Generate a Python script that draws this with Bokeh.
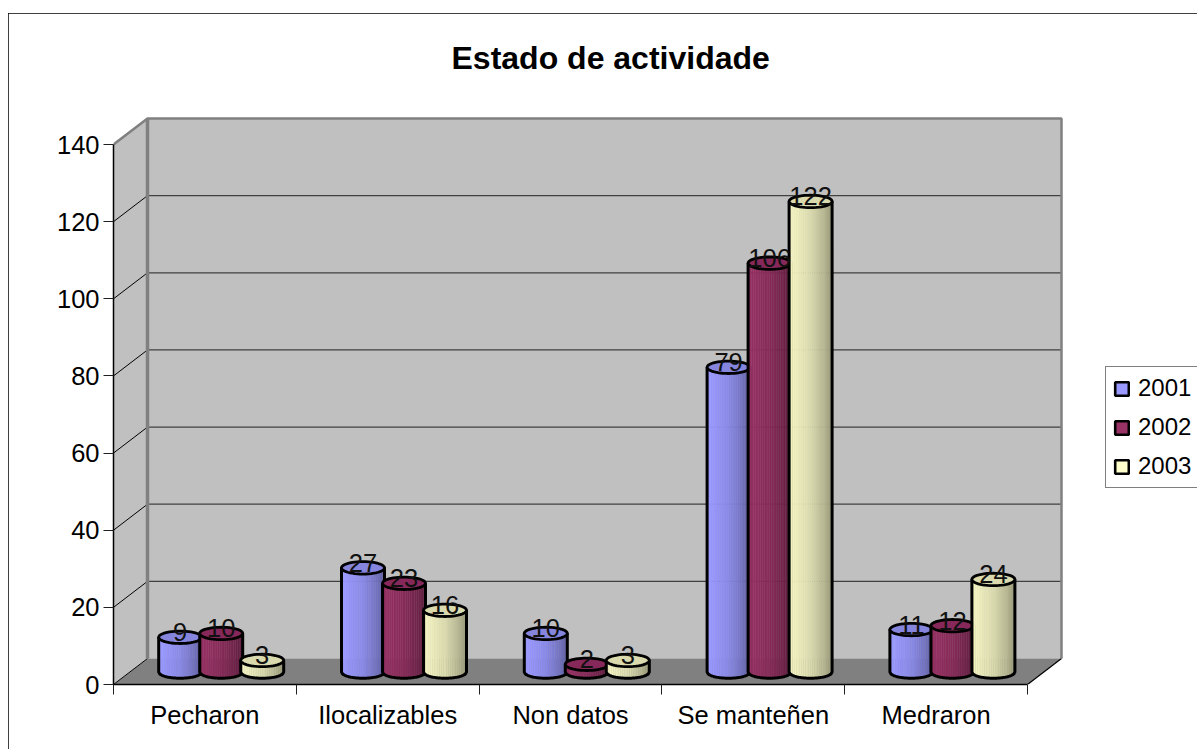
import math
from bokeh.plotting import figure
from bokeh.models import (ColumnDataSource, FixedTicker, Legend, LegendItem, Range1d)
from bokeh.core.properties import value
from bokeh.embed import file_html
from bokeh.resources import INLINE

categories = ["Pecharon", "Ilocalizables", "Non datos", "Se manteñen", "Medraron"]
series_names = ["2001", "2002", "2003"]
values_2001 = [9, 27, 10, 79, 11]
values_2002 = [10, 23, 2, 106, 12]
values_2003 = [3, 16, 3, 122, 24]
y_ticks = [0, 20, 40, 60, 80, 100, 120, 140]
colors = ["#9999FF", "#993366", "#FFFFCC"]
top_colors = ["#8585DE", "#86285A", "#DADAAE"]
series_light = [1.0, 0.98, 0.95]
title_text = "Estado de actividade"

FONT = "Liberation Sans"
TICK_SIZE = "25.5px"
PX_X = 914 / 5          # pixels per category
PX_Y = 540 / 140        # pixels per value unit
FIG_X, FIG_Y = 8, 13
W, H = 1191, 738
LEFT, RIGHT_EDGE, TOP, BOTTOM = 113, 1199, 98, 684
DX, DY = 34 / PX_X, 26 / PX_Y     # chart depth in data units
MX, MY = 16.3 / PX_X, 12.5 / PX_Y   # depth of the columns' axis
STEP = 41 / PX_X                  # spacing of columns in a category
RX = 21.5 / PX_X
RY = 6.2 / PX_Y
YMAX = 140 + (144 - TOP) / PX_Y
XMAX = (RIGHT_EDGE - LEFT) / PX_X

p = figure(width=W, height=H, output_backend="svg", toolbar_location=None,
           x_range=Range1d(0, XMAX), y_range=Range1d(0, YMAX),
           min_border_left=LEFT - FIG_X, min_border_right=0, min_border_top=TOP - FIG_Y,
           min_border_bottom=H + FIG_Y - BOTTOM,
           background_fill_color="white", border_fill_color="white")
p.styles = {"position": "absolute", "left": f"{FIG_X}px", "top": f"{FIG_Y}px",
            "outline": "2px solid black", "outline-offset": "-2px",
            "clip-path": "inset(0 2px 2px 0)"}
p.outline_line_color = None
p.grid.visible = False

p.title.text = title_text
p.title.text_font = FONT
p.title.text_font_size = "32px"
p.title.text_font_style = "bold"
p.title.text_color = "black"
p.title.align = "left"
p.title.offset = 451 - LEFT
p.title.standoff = 46

# legend keys (hidden behind the walls; only their legend swatches show)
legend_items = []
for s, name in enumerate(series_names):
    r = p.quad(left=[2], right=[2], top=[50], bottom=[50], fill_color=colors[s], line_color="#000000", line_width=2.6)
    legend_items.append(LegendItem(label=name, renderers=[r]))

# walls and floor
p.patch([DX, 5 + DX, 5 + DX, DX], [DY, DY, 140 + DY, 140 + DY], fill_color="#C0C0C0", line_color=None)
p.patch([0, DX, 5 + DX, 5], [0, DY, DY, 0], fill_color="#808080", line_color=None)
p.patch([0, DX, DX, 0], [0, DY, 140 + DY, 140], fill_color="#C0C0C0", line_color=None)

# gridlines on the back wall and their side-wall diagonals
grid = [t for t in y_ticks if 0 < t < 140]
p.segment([DX] * len(grid), [t + DY for t in grid], [5 + DX] * len(grid), [t + DY for t in grid],
          line_color="#404040", line_width=1.3)
p.segment([0] * len(grid), grid, [DX] * len(grid), [t + DY for t in grid], line_color="#000000", line_width=1)
p.segment([0], [0], [DX], [DY], line_color="#000000", line_width=1)
p.segment([5], [0], [5 + DX], [DY], line_color="#000000", line_width=1.2)

# wall edges
p.line([DX, DX], [DY, 140 + DY], line_color="#808080", line_width=3.5)
p.line([0, DX, 5 + DX, 5 + DX], [140, 140 + DY, 140 + DY, DY], line_color="#808080", line_width=2.5)

shade = [0.99, 1.0, 1.0, 0.99, 0.98, 0.97, 0.96, 0.95, 0.94, 0.93, 0.92, 0.91,
         0.90, 0.88, 0.86, 0.84, 0.82, 0.80, 0.78, 0.76, 0.73, 0.70, 0.67, 0.64]


def scale(hex_color, f):
    r, g, b = (int(hex_color[i:i + 2], 16) for i in (1, 3, 5))
    return "#%02x%02x%02x" % (int(r * f), int(g * f), int(b * f))


xs, ys, fills, alphas, lines, widths = [], [], [], [], [], []


def add(px, py, fill, alpha, line, width):
    xs.append(px); ys.append(py); fills.append(fill); alphas.append(alpha); lines.append(line); widths.append(width)


label_x, label_y, label_t = [], [], []
all_values = [values_2001, values_2002, values_2003]
for c in range(len(categories)):
    for s in range(len(series_names)):
        v = all_values[s][c]
        cx = c + 0.5 + MX + (s - 1) * STEP
        n = len(shade)
        for k in range(n):
            t0, t1 = -1 + 2 * k / n, -1 + 2 * (k + 1) / n
            low0 = MY - RY * math.sqrt(max(0, 1 - t0 * t0))
            low1 = MY - RY * math.sqrt(max(0, 1 - t1 * t1))
            col = scale(colors[s], shade[k] * series_light[s])
            add([cx + t0 * RX, cx + t1 * RX, cx + t1 * RX, cx + t0 * RX],
                [low0, low1, MY + v, MY + v], col, 1, col, 0.4)
        ts = [-1 + 2 * i / 40 for i in range(41)]
        bx = [cx + t * RX for t in ts]
        by = [MY - RY * math.sqrt(max(0, 1 - t * t)) for t in ts]
        add([cx - RX] + bx + [cx + RX], [MY + v] + by + [MY + v], "#000000", 0, "#000000", 3)
        ang = [2 * math.pi * i / 48 for i in range(48)]
        add([cx + RX * math.cos(a) for a in ang], [MY + v + RY * math.sin(a) for a in ang],
            top_colors[s], 1, "#000000", 2.8)
        label_x.append(cx); label_y.append(MY + v); label_t.append(str(v))

src = ColumnDataSource(dict(xs=xs, ys=ys, fill=fills, alpha=alphas, line=lines, width=widths))
p.patches("xs", "ys", source=src, fill_color="fill", fill_alpha="alpha", line_color="line", line_width="width")

p.text(label_x, label_y, text=label_t, text_font=value(FONT), text_font_size=TICK_SIZE, text_color="#111111",
       text_align="center", text_baseline="middle", y_offset=-5)

# axes
ax = p.xaxis[0]
ax.bounds = (0, 5)
ax.ticker = FixedTicker(ticks=[i + 0.5 for i in range(5)], minor_ticks=list(range(6)))
ax.major_label_overrides = {i + 0.5: categories[i] for i in range(5)}
ax.major_tick_out = 0
ax.major_tick_in = 0
ax.minor_tick_out = 10
ax.minor_tick_in = 0
ax.minor_tick_line_color = "#202020"
ax.axis_line_color = "#000000"
ax.axis_line_width = 1.5
ax.major_label_text_font = FONT
ax.major_label_text_font_size = TICK_SIZE
ax.major_label_text_color = "#000000"
ax.major_label_standoff = 6

ay = p.yaxis[0]
ay.bounds = (0, 140)
ay.ticker = FixedTicker(ticks=y_ticks)
ay.minor_tick_line_color = None
ay.major_tick_out = 10
ay.major_tick_in = 0
ay.major_tick_line_color = "#202020"
ay.axis_line_color = "#000000"
ay.axis_line_width = 1.5
ay.major_label_text_font = FONT
ay.major_label_text_font_size = TICK_SIZE
ay.major_label_text_color = "#000000"
ay.major_label_standoff = 4

leg = Legend(items=legend_items, location=(1105 - LEFT, BOTTOM - 488), orientation="vertical",
             glyph_width=17, glyph_height=17, label_height=27, label_width=70, spacing=11,
             padding=7, margin=0, label_standoff=8,
             label_text_font=FONT, label_text_font_size="24px", label_text_color="#000000",
             border_line_color="#000000", border_line_width=1.2, background_fill_color="white", background_fill_alpha=1)
p.add_layout(leg)

open("out.html", "w").write(file_html(p, INLINE))
